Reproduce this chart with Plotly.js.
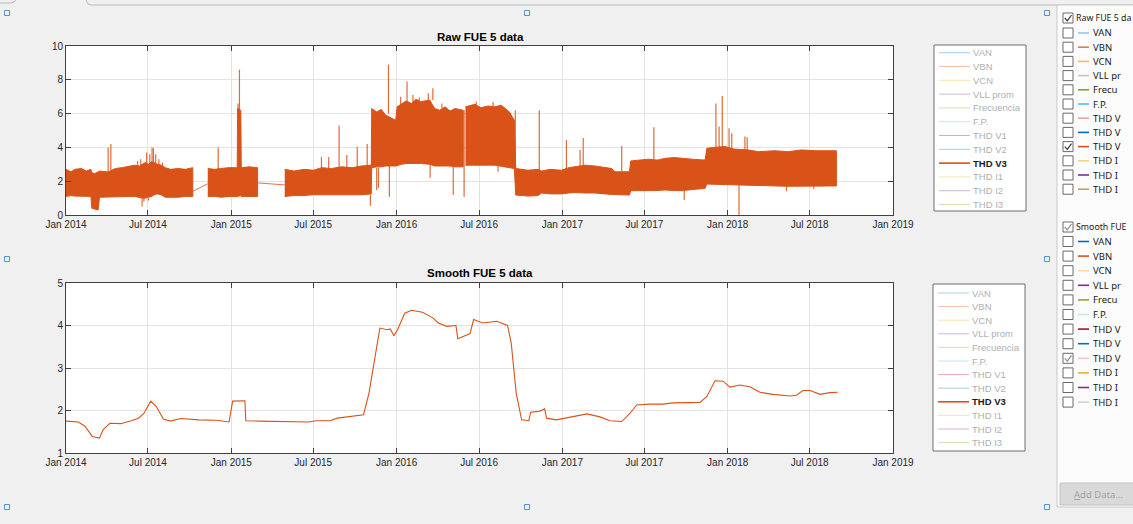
<!DOCTYPE html>
<html>
<head>
<meta charset="utf-8">
<script src="https://cdn.plot.ly/plotly-3.0.1.min.js"></script>
<style>
  html, body { margin: 0; padding: 0; background: #f0f0f0; }
  #chart { width: 1133px; height: 524px; }
</style>
</head>
<body>
<div id="chart"></div>
<script>
// ---------------- DATA ----------------
// Raw FUE 5 data, THD V3: envelope of the dense band (null = recording gap)
const rawDates = [
  '2014-01-01','2014-01-12','2014-01-20','2014-02-04','2014-02-15','2014-02-25','2014-02-27','2014-03-05','2014-03-13','2014-03-16',
  '2014-04-04','2014-04-20','2014-05-04','2014-05-20','2014-06-02','2014-06-12','2014-06-18','2014-06-25','2014-07-02','2014-07-09',
  '2014-07-15','2014-07-22','2014-07-30','2014-08-08','2014-08-20','2014-09-06','2014-09-22','2014-10-08', null,
  '2014-11-10','2014-11-25','2014-12-10','2014-12-25','2015-01-14','2015-01-15','2015-01-22','2015-01-23','2015-02-10','2015-02-28', null,
  '2015-04-29','2015-05-20','2015-06-10','2015-07-01','2015-07-20','2015-08-10','2015-09-01','2015-09-25','2015-10-15','2015-11-06',
  '2015-11-07','2015-11-18','2015-11-28','2015-12-08','2015-12-16','2015-12-30','2016-01-02','2016-01-12','2016-01-22','2016-02-03',
  '2016-02-13','2016-02-23','2016-03-03','2016-03-14','2016-03-25','2016-04-05','2016-04-17','2016-04-28','2016-05-09','2016-05-27', null,
  '2016-06-01','2016-06-12','2016-06-22','2016-07-05','2016-07-21','2016-08-05','2016-08-19','2016-09-06','2016-09-17','2016-09-20',
  '2016-10-05','2016-10-17','2016-11-08','2016-11-16','2016-12-05','2016-12-30','2017-01-15','2017-01-29','2017-02-20','2017-03-14',
  '2017-04-05','2017-04-20','2017-04-27','2017-05-29','2017-06-01','2017-06-20','2017-07-10','2017-07-30','2017-08-15','2017-09-05',
  '2017-09-21','2017-10-15','2017-11-12','2017-11-16','2017-12-01','2017-12-26','2018-01-15','2018-02-15','2018-03-10','2018-04-15',
  '2018-05-15','2018-06-13','2018-07-15','2018-08-29'
];
const rawHigh = [
  2.7,2.55,2.7,2.75,2.6,2.7,2.5,2.45,2.55,2.6,
  2.55,2.75,2.8,2.9,2.95,2.9,3.0,3.1,3.0,3.15,
  3.1,3.0,2.95,2.8,2.7,2.75,2.7,2.8, null,
  2.75,2.7,2.75,2.8,2.8,6.3,6.2,2.8,2.85,2.8, null,
  2.7,2.6,2.7,2.65,2.8,2.75,2.85,2.8,2.9,2.95,
  6.3,6.1,6.25,5.9,5.8,5.6,6.4,6.6,6.75,6.6,
  6.85,6.7,6.75,6.8,6.3,6.2,6.4,6.15,6.3,6.2, null,
  6.4,6.5,6.55,6.35,6.45,6.4,6.5,6.1,5.6,2.75,
  2.7,2.65,2.7,2.6,2.7,2.65,2.8,2.85,2.95,2.9,
  2.8,2.75,2.56,2.56,3.2,3.25,3.3,3.25,3.35,3.4,
  3.35,3.3,3.25,3.95,4.0,4.05,3.9,3.85,3.75,3.8,
  3.75,3.85,3.8,3.8
];
const rawLow = [
  1.1,1.15,1.12,1.1,1.1,1.1,0.4,0.35,0.3,1.05,
  1.05,1.1,1.08,1.1,1.1,1.05,1.0,1.0,1.05,1.1,
  1.2,1.25,1.2,1.05,1.05,1.05,1.1,1.1, null,
  1.1,1.1,1.05,1.1,1.1,1.1,1.15,1.1,1.1,1.1, null,
  1.1,1.15,1.15,1.2,1.2,1.2,1.2,1.2,1.2,1.25,
  2.8,2.85,2.85,2.9,2.9,2.9,2.95,3.0,3.05,3.05,
  3.05,3.05,3.05,3.0,2.9,2.9,2.9,2.9,2.85,2.85, null,
  2.95,2.95,2.95,2.95,2.95,2.95,2.9,2.8,2.75,1.18,
  1.15,1.12,1.15,1.3,1.25,1.25,1.3,1.33,1.3,1.3,
  1.25,1.22,1.18,1.18,1.44,1.45,1.44,1.45,1.48,1.45,
  1.44,1.5,1.58,1.83,1.83,1.83,1.8,1.78,1.75,1.72,
  1.7,1.68,1.7,1.72
];
// straight lines drawn across recording gaps
const linkStartDates = ['2014-10-08','2015-02-28'];
const linkStartValues = [1.4, 1.9];
const linkEndDates = ['2014-11-10','2015-04-29'];
const linkEndValues = [1.85, 1.78];
// isolated spikes (from band edge to peak)
const spikeDates = ['2014-04-04','2014-04-10','2014-06-08','2014-06-15','2014-06-18','2014-06-22','2014-06-28','2014-07-02','2014-07-05','2014-07-10',
  '2014-07-13','2014-07-18','2014-07-25','2014-08-02','2014-12-03','2015-01-16','2015-01-19','2015-07-19','2015-08-04','2015-08-27',
  '2015-09-13','2015-10-06','2015-10-28','2015-11-04','2015-11-18','2015-11-22','2015-12-14','2015-12-16','2016-01-10','2016-01-24',
  '2016-02-06','2016-02-20','2016-03-11','2016-03-21','2016-03-15','2016-04-10','2016-05-05','2016-05-29','2016-06-25','2016-08-01',
  '2016-08-12','2016-09-19','2016-11-11','2017-01-10','2017-02-09','2017-02-16','2017-05-12','2017-07-22','2017-09-27','2017-12-06',
  '2017-12-13','2017-12-20','2018-01-04','2018-01-10','2018-01-26','2018-02-08','2018-02-13','2018-05-11','2018-07-10'];
const spikeBase = [2.5,2.5,2.9,2.9,1.0,1.0,3.0,1.0,3.0,3.1,
  3.1,3.0,2.9,2.8,2.7,6.0,6.0,2.7,2.7,2.7,
  2.8,2.8,2.9,1.2,2.8,2.8,6.0,2.9,6.5,6.6,
  6.6,6.7,6.8,6.8,3.0,6.3,2.85,6.2,6.5,6.4,
  2.95,2.8,1.2,2.7,2.9,2.9,2.6,3.3,1.44,4.0,
  4.0,4.0,3.9,3.9,1.8,3.85,3.85,1.72,1.7];
const spikePeak = [4.0,4.2,3.2,3.3,0.5,0.8,3.7,0.85,3.6,4.0,
  3.95,3.6,3.3,3.1,4.0,6.6,8.6,3.43,3.43,5.3,
  3.55,4.04,4.2,0.55,1.48,1.6,8.9,1.08,7.0,7.9,
  7.1,6.95,7.2,7.5,2.2,6.6,1.18,1.08,6.7,6.7,
  2.56,6.2,6.2,4.44,3.85,4.55,4.08,5.19,0.89,6.6,
  5.23,7.04,5.13,4.83,0.0,4.64,4.6,1.4,1.55];

// Smooth FUE 5 data, THD V3
const smoothDates = ['2014-01-01','2014-01-28','2014-02-12','2014-02-28','2014-03-16','2014-03-24','2014-04-08','2014-05-02','2014-05-25','2014-06-10',
  '2014-06-22','2014-07-07','2014-07-19','2014-08-04','2014-08-19','2014-09-12','2014-10-21','2014-11-29','2014-12-27','2015-01-04',
  '2015-01-31','2015-02-02','2015-03-03','2015-05-05','2015-06-21','2015-07-07','2015-08-07','2015-08-23','2015-09-23','2015-10-20',
  '2015-11-01','2015-11-25','2015-12-11','2015-12-18','2015-12-26','2016-01-03','2016-01-19','2016-02-03','2016-02-27','2016-03-21',
  '2016-04-02','2016-04-21','2016-05-11','2016-05-15','2016-05-31','2016-06-11','2016-06-19','2016-07-09','2016-08-09','2016-09-02',
  '2016-09-10','2016-09-21','2016-10-03','2016-10-19','2016-10-23','2016-11-11','2016-11-23','2016-11-27','2016-12-19','2017-01-18',
  '2017-02-24','2017-03-25','2017-04-16','2017-05-12','2017-05-30','2017-06-14','2017-07-13','2017-08-11','2017-09-02','2017-11-01',
  '2017-11-16','2017-12-04','2017-12-22','2018-01-06','2018-01-28','2018-02-19','2018-03-13','2018-04-11','2018-05-19','2018-06-02',
  '2018-06-16','2018-07-02','2018-07-24','2018-08-15','2018-09-01'];
const smoothValues = [1.75,1.73,1.63,1.39,1.35,1.55,1.70,1.69,1.76,1.82,
  1.93,2.22,2.10,1.80,1.75,1.81,1.78,1.77,1.73,2.22,
  2.23,1.76,1.75,1.73,1.73,1.76,1.76,1.82,1.86,1.90,
  2.41,3.94,3.90,3.92,3.76,3.90,4.29,4.36,4.31,4.18,
  4.06,3.98,4.00,3.69,3.76,3.81,4.14,4.06,4.10,4.00,
  3.59,2.41,1.78,1.76,1.96,1.98,2.04,1.82,1.78,1.85,
  1.92,1.85,1.76,1.74,1.93,2.13,2.15,2.15,2.18,2.19,
  2.33,2.70,2.69,2.55,2.60,2.56,2.43,2.38,2.34,2.36,
  2.47,2.47,2.38,2.42,2.43];

// axis ticks
const tickDates = ['2014-01-01','2014-07-01','2015-01-01','2015-07-01','2016-01-01','2016-07-01','2017-01-01','2017-07-01','2018-01-01','2018-07-01','2019-01-01'];
const tickLabels = ['Jan 2014','Jul 2014','Jan 2015','Jul 2015','Jan 2016','Jul 2016','Jan 2017','Jul 2017','Jan 2018','Jul 2018','Jan 2019'];
const rawYTicks = [0,2,4,6,8,10];
const smoothYTicks = [1,2,3,4,5];

// channels (legend entries) and their colours
const channels = ['VAN','VBN','VCN','VLL prom','Frecuencia','F.P.','THD V1','THD V2','THD V3','THD I1','THD I2','THD I3'];
const channelColors = ['#0072BD','#D95319','#EDB120','#7E2F8E','#77AC30','#4DBEEE','#A2142F','#0072BD','#D95319','#EDB120','#7E2F8E','#77AC30'];
const activeIndex = 8; // THD V3
// side panel (labels as visible in the narrow panel)
const panelRawTitle = 'Raw FUE 5 da';
const panelSmoothTitle = 'Smooth FUE';
const panelLabels = ['VAN','VBN','VCN','VLL pr','Frecu','F.P.','THD V','THD V','THD V','THD I','THD I','THD I'];
const panelRawColors = ['#9cc3e6','#e07a50','#f0c060','#c4c4cc','#77AC30','#4DBEEE','#e8a4a4','#0072BD','#D95319','#f5d28a','#7E2F8E','#b0a868'];
const panelSmoothColors = ['#0072BD','#D95319','#f8dca8','#7E2F8E','#9aa040','#c4e8f2','#A2142F','#0072BD','#ecccc4','#EDB120','#7E2F8E','#d4d4cc'];
const panelButton = 'Add Data...';

// ---------------- BUILD ----------------
const W = 1133, H = 524;
const fx = p => p / W;
const fy = p => 1 - p / H;
const ORANGE = '#D95319';

// band polygons: one closed polygon per recording block
const bandX = [], bandY = [];
let blk = [];
function flush() {
  if (!blk.length) return;
  blk.forEach(i => { bandX.push(rawDates[i]); bandY.push(rawHigh[i]); });
  blk.slice().reverse().forEach(i => { bandX.push(rawDates[i]); bandY.push(rawLow[i]); });
  bandX.push(null); bandY.push(null);
  blk = [];
}
rawDates.forEach((d, i) => { if (d === null) flush(); else blk.push(i); });
flush();

const spikeX = [], spikeY = [];
spikeDates.forEach((d, i) => { spikeX.push(d, d, null); spikeY.push(spikeBase[i], spikePeak[i], null); });
const linkX = [], linkY = [];
linkStartDates.forEach((d, i) => { linkX.push(d, linkEndDates[i], null); linkY.push(linkStartValues[i], linkEndValues[i], null); });

const traces = [
  { x: bandX, y: bandY, type: 'scatter', mode: 'lines', fill: 'toself', fillcolor: ORANGE,
    line: { color: ORANGE, width: 1 }, xaxis: 'x', yaxis: 'y', hoverinfo: 'skip' },
  { x: spikeX, y: spikeY, type: 'scatter', mode: 'lines', line: { color: ORANGE, width: 1.2 }, opacity: 0.85,
    xaxis: 'x', yaxis: 'y', hoverinfo: 'skip' },
  { x: linkX, y: linkY, type: 'scatter', mode: 'lines', line: { color: ORANGE, width: 1 }, opacity: 0.8,
    xaxis: 'x', yaxis: 'y', hoverinfo: 'skip' },
  { x: smoothDates, y: smoothValues, type: 'scatter', mode: 'lines', line: { color: ORANGE, width: 1.1 },
    xaxis: 'x2', yaxis: 'y2', hoverinfo: 'skip' }
];

const tickFont = { family: 'Liberation Sans, Arial, sans-serif', size: 10, color: '#262626' };
const axisCommon = {
  ticks: 'inside', ticklen: 5, tickcolor: '#404040', tickwidth: 1,
  showline: true, linecolor: '#404040', linewidth: 1, mirror: 'ticks',
  showgrid: true, gridcolor: '#e3e3e3', gridwidth: 1, zeroline: false,
  tickfont: tickFont, fixedrange: true
};
const xCommon = Object.assign({}, axisCommon, {
  type: 'date', range: ['2014-01-01', '2019-01-01'], tickmode: 'array',
  tickvals: tickDates, ticktext: tickLabels, domain: [fx(66), fx(893)]
});

const shapes = [];
const annotations = [];
function line(x0, y0, x1, y1, color, width, opacity) {
  shapes.push({ type: 'line', xref: 'paper', yref: 'paper', x0: fx(x0), y0: fy(y0), x1: fx(x1), y1: fy(y1),
    line: { color: color, width: width || 1 }, opacity: opacity === undefined ? 1 : opacity });
}
function rect(x0, y0, x1, y1, fill, border, bw) {
  shapes.push({ type: 'rect', xref: 'paper', yref: 'paper', x0: fx(x0), y0: fy(y0), x1: fx(x1), y1: fy(y1),
    fillcolor: fill, line: { color: border, width: bw === undefined ? 1 : bw } });
}
function pathPx(pts, color, width) {
  const d = pts.map((p, i) => (i ? 'L' : 'M') + fx(p[0]).toFixed(5) + ',' + fy(p[1]).toFixed(5)).join(' ');
  shapes.push({ type: 'path', xref: 'paper', yref: 'paper', path: d, line: { color: color, width: width || 1 } });
}
function text(x, y, t, size, color, family, opts) {
  annotations.push(Object.assign({ xref: 'paper', yref: 'paper', x: fx(x), y: fy(y), text: t, showarrow: false,
    xanchor: 'left', yanchor: 'middle', borderpad: 0,
    font: { family: family || 'Liberation Sans, Arial, sans-serif', size: size, color: color } }, opts || {}));
}
const UI_FONT = 'Noto Sans, Open Sans, sans-serif';

// tab strip at top of figure
pathPx([[0, 3], [11, 3], [14, 2], [16, 0]], '#b9b9b9', 1);
pathPx([[86, 0], [88, 4], [92, 5], [1133, 5]], '#b9b9b9', 1);

// titles
text(480, 37, '<b>Raw FUE 5 data</b>', 11.5, '#000', null, { xanchor: 'center' });
text(480, 273, '<b>Smooth FUE 5 data</b>', 11.5, '#000', null, { xanchor: 'center' });

// MATLAB-style legends
function drawLegend(x0, y0, x1, y1, firstY, step) {
  rect(x0, y0, x1, y1, '#ffffff', '#6e6e6e', 1);
  channels.forEach((name, i) => {
    const y = firstY + i * step;
    const active = i === activeIndex;
    line(x0 + 5, y, x0 + 36, y, channelColors[i], active ? 1.6 : 1, active ? 1 : 0.35);
    text(x0 + 38, y, active ? '<b>' + name + '</b>' : name, 9.5, active ? '#1a1a1a' : '#b0b0b0');
  });
}
drawLegend(934, 45, 1026, 211, 52.7, 13.8);
drawLegend(933, 284, 1025, 451, 293, 13.6);

// side panel
rect(1057, 5, 1140, 507, '#fcfcfc', '#c9c9c9', 1);
function checkbox(cy, checked, light) {
  rect(1063, cy - 5, 1073, cy + 5, '#ffffff', '#6a6a6a', 1);
  if (checked) pathPx([[1064.8, cy], [1067.3, cy + 2.8], [1071.5, cy - 3]], light ? '#8a8a8a' : '#333333', 1.2);
}
function panelSection(headY, firstY, step, title, colors, light) {
  checkbox(headY, true, light);
  text(1075, headY, title, 8.8, '#1a1a1a', UI_FONT);
  panelLabels.forEach((name, i) => {
    const y = firstY + i * step;
    checkbox(y, i === activeIndex, light);
    line(1078, y, 1089, y, colors[i], 1.6, 1);
    text(1092, y, name, 9.5, '#1a1a1a', UI_FONT);
  });
}
panelSection(18, 33, 14.2, panelRawTitle, panelRawColors, false);
panelSection(227, 241.5, 14.6, panelSmoothTitle, panelSmoothColors, true);
rect(1060, 483, 1140, 505, '#d9d9d9', '#c2c2c2', 1);
text(1073, 494, '<span style="text-decoration:underline">A</span>dd Data...', 9.5, '#a3a3a3', UI_FONT);

// selection handles
[[7, 13], [527, 13], [1047, 13], [7, 259], [1047, 259], [7, 507], [527, 507], [1047, 507]].forEach(p => {
  rect(p[0] - 2.5, p[1] - 2.5, p[0] + 2.5, p[1] + 2.5, '#eaf2fc', '#5b8fd6', 1);
});

const layout = {
  width: W, height: H,
  margin: { l: 0, r: 0, t: 0, b: 0 },
  paper_bgcolor: '#f0f0f0', plot_bgcolor: '#ffffff',
  showlegend: false,
  xaxis: Object.assign({}, xCommon, { anchor: 'y' }),
  yaxis: Object.assign({}, axisCommon, { domain: [fy(215), fy(46)], range: [0, 10], tickmode: 'array', tickvals: rawYTicks, anchor: 'x' }),
  xaxis2: Object.assign({}, xCommon, { anchor: 'y2' }),
  yaxis2: Object.assign({}, axisCommon, { domain: [fy(453), fy(283)], range: [1, 5], tickmode: 'array', tickvals: smoothYTicks, anchor: 'x2' }),
  shapes: shapes,
  annotations: annotations
};

Plotly.newPlot('chart', traces, layout, { staticPlot: true, displayModeBar: false });
</script>
</body>
</html>
